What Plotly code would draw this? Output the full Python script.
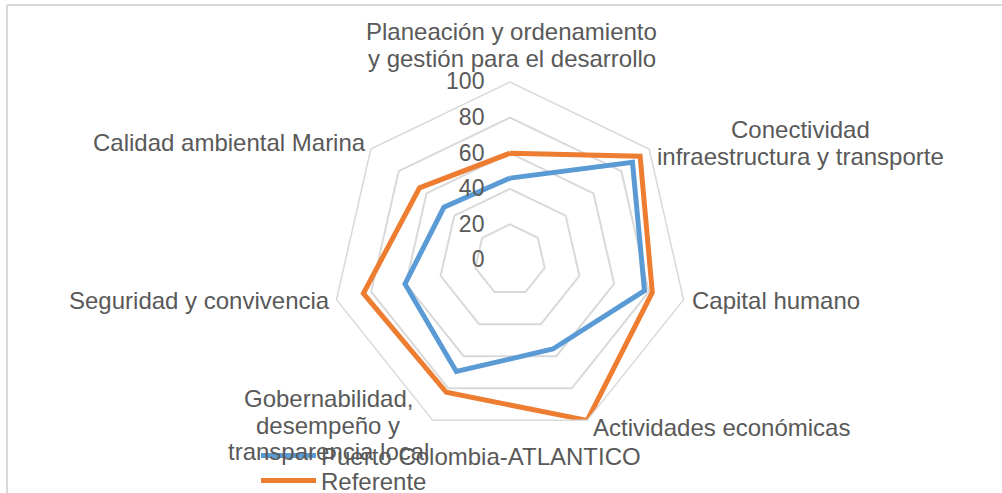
import plotly.graph_objects as go

categories = [
    "Planeación y ordenamiento<br>y gestión para el desarrollo",
    "Conectividad<br>infraestructura y transporte",
    "Capital humano",
    "Actividades económicas",
    "Gobernabilidad,<br>desempeño y<br>transparencia local",
    "Seguridad y convivencia",
    "Calidad ambiental Marina",
]
puerto_colombia = [46, 88, 77.5, 55.5, 69.5, 60.5, 47.5]
referente = [60, 93.5, 82, 100, 82.5, 84.5, 65]
series_names = ["Puerto Colombia-ATLANTICO", "Referente"]
radial_ticks = [0, 20, 40, 60, 80, 100]

W, H = 1002, 493
cx, cy, R = 510, 260, 178

# label block centres (px) for each category, in the same order
label_pos = [(512, 45), (800, 143), (776, 300), (721, 427), (328, 425), (199, 300), (229, 143)]
LINE_GAP = 26.5

def px(x):
    return x / W

def py(y):
    return 1 - y / H

def closed(v):
    return list(v) + [v[0]]

fig = go.Figure()
fig.add_trace(go.Scatterpolar(
    r=closed(puerto_colombia), theta=closed(categories), mode="lines",
    name=series_names[0], line=dict(color="#5B9BD5", width=5),
    legend="legend",
))
fig.add_trace(go.Scatterpolar(
    r=closed(referente), theta=closed(categories), mode="lines",
    name=series_names[1], line=dict(color="#ED7D31", width=5),
    legend="legend2",
))

text_color = "#595959"
grid = "#D9D9D9"
fnt = "Liberation Sans, Arial, sans-serif"

annotations = []
for cat, (lx, ly) in zip(categories, label_pos):
    lines = cat.split("<br>")
    n = len(lines)
    for i, ln in enumerate(lines):
        yy = ly + (i - (n - 1) / 2) * LINE_GAP
        annotations.append(dict(
            text=ln, xref="paper", yref="paper", x=px(lx), y=py(yy),
            xanchor="center", yanchor="middle", showarrow=False,
            font=dict(size=24, color=text_color, family=fnt),
        ))

fig.update_layout(
    width=W, height=H,
    margin=dict(l=0, r=0, t=0, b=0, autoexpand=False),
    paper_bgcolor="white",
    showlegend=True,
    font=dict(family=fnt, color=text_color, size=24),
    polar=dict(
        domain=dict(x=[px(cx - R), px(cx + R)], y=[py(cy + R), py(cy - R)]),
        gridshape="linear",
        bgcolor="white",
        angularaxis=dict(
            direction="clockwise", rotation=90, showgrid=False,
            showline=True, linecolor=grid, linewidth=1.5, ticks="",
            showticklabels=False,
        ),
        radialaxis=dict(
            range=[0, 100], tickvals=radial_ticks, showline=False,
            ticks="outside", ticklen=17, tickcolor="rgba(0,0,0,0)",
            gridcolor=grid, gridwidth=1.5, angle=90, tickangle=90,
            side="counterclockwise",
            tickfont=dict(size=23, color=text_color),
        ),
    ),
    legend=dict(x=px(256), xanchor="left", y=py(456), yanchor="middle",
                bgcolor="rgba(0,0,0,0)", itemwidth=55, font=dict(size=24)),
    legend2=dict(x=px(256), xanchor="left", y=py(481), yanchor="middle",
                 bgcolor="rgba(0,0,0,0)", itemwidth=55, font=dict(size=24)),
    annotations=annotations,
    shapes=[
        dict(type="line", xref="paper", yref="paper", x0=px(7), x1=1, y0=py(5), y1=py(5),
             line=dict(color=grid, width=2)),
        dict(type="line", xref="paper", yref="paper", x0=px(7), x1=px(7), y0=0, y1=py(5),
             line=dict(color=grid, width=2)),
    ],
)

page_fix = (
    "for (const el of [document.documentElement, document.body]) {"
    " el.style.margin='0'; el.style.padding='0'; el.style.overflow='hidden';"
    " el.style.width='1002px'; el.style.height='493px'; }"
)

fig.write_html("out.html", config={"displayModeBar": False}, post_script=page_fix)
